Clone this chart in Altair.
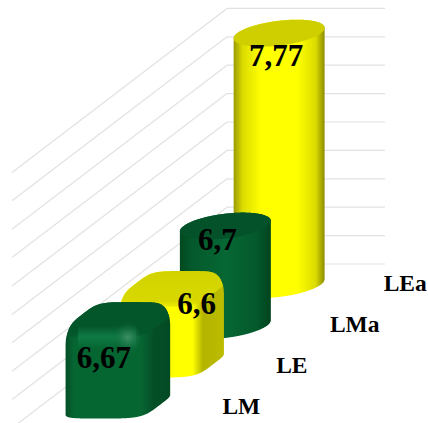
import altair as alt
import numpy as np
import pandas as pd

# Chart values
categories = ["LM", "LE", "LMa", "LEa"]
values = [6.67, 6.6, 6.7, 7.77]
value_ticks = [6.0, 6.2, 6.4, 6.6, 6.8, 7.0, 7.2, 7.4, 7.6, 7.8]
bar_styles = ["box", "box", "cylinder", "cylinder"]

# Oblique projection of the 3D box onto the page
WIDTH, HEIGHT = 428, 423
BASE_VALUE = 6.0
UNIT = 142.0                 # page units per value unit
FLOOR_FRONT = (12.0, 428.0)  # front-left corner of the floor
DEPTH = (215.0, -164.0)      # floor edge running front to back
WALL_WIDTH = 158.0           # back wall width
BAR_U = 41.9                 # half width of a bar
BAR_V = (17.7, -13.5)        # half depth of a bar
BEVEL = 22.0                 # height of the rounded shoulder of a box
BEVEL_INSET = 0.26           # footprint lost at the very top of that shoulder

x_scale = alt.Scale(domain=[0, WIDTH], range=[0, WIDTH], nice=False, zero=False)
y_scale = alt.Scale(domain=[HEIGHT, 0], range=[HEIGHT, 0], nice=False, zero=False)


def floor_center(i):
    d = (i + 0.5) / len(categories)
    return (FLOOR_FRONT[0] + WALL_WIDTH / 2 + DEPTH[0] * d, FLOOR_FRONT[1] + DEPTH[1] * d)


def outline(cx, cy, n, scale=1.0):
    """Superellipse footprint: n=2 gives a disc, larger n a rounded square."""
    t = np.linspace(0, 2 * np.pi, 361)
    u = np.sign(np.cos(t)) * np.abs(np.cos(t)) ** (2 / n) * scale
    v = np.sign(np.sin(t)) * np.abs(np.sin(t)) ** (2 / n) * scale
    return cx + BAR_U * u + BAR_V[0] * v, cy + BAR_V[1] * v


def envelope(px, py, xs):
    """Upper and lower y of a closed outline at each x (NaN outside it)."""
    top, bottom = [], []
    for x in xs:
        a, b = px[:-1], px[1:]
        hit = ((a <= x) & (b >= x)) | ((b <= x) & (a >= x))
        if not hit.any():
            top.append(np.nan)
            bottom.append(np.nan)
            continue
        with np.errstate(divide="ignore", invalid="ignore"):
            f = np.where(b != a, (x - a) / (b - a), 0.0)
        ys = (py[:-1] + f * (py[1:] - py[:-1]))[hit]
        top.append(ys.min())
        bottom.append(ys.max())
    return np.array(top), np.array(bottom)


def rounded_top(cx, top_y, n, xs):
    """Upper silhouette of a box whose top edge is rounded over."""
    rows = []
    for phi in np.linspace(0, np.pi / 2, 15):
        scale = 1 - BEVEL_INSET * (1 - np.sin(phi))
        drop = BEVEL * (1 - np.cos(phi))
        px, py = outline(cx, top_y + drop, n, scale)
        rows.append(envelope(px, py, xs)[0])
    return np.nanmin(np.vstack(rows), axis=0)


def area_layer(xs, top, bottom, fill):
    df = pd.DataFrame({"x": xs, "y": top, "y2": bottom})
    return alt.Chart(df).mark_area(fill=fill, interpolate="linear").encode(
        x=alt.X("x:Q", scale=x_scale, axis=None),
        y=alt.Y("y:Q", scale=y_scale, axis=None),
        y2="y2:Q",
    )


def linear(stops, horizontal=True):
    return alt.Gradient(
        gradient="linear",
        x1=0, y1=0,
        x2=1 if horizontal else 0,
        y2=0 if horizontal else 1,
        stops=[alt.GradientStop(offset=o, color=c) for o, c in stops],
    )


PAINT = {
    "cylinder": {
        "LMa": dict(
            body=[(0, "#02481f"), (0.12, "#04582b"), (0.5, "#066834"), (0.85, "#04582b"), (1, "#02441f")],
            cap="#035229",
        ),
        "LEa": dict(
            body=[(0, "#9a9a00"), (0.1, "#dcdc00"), (0.3, "#ffff00"), (0.7, "#ffff00"), (0.9, "#dcdc00"), (1, "#8c8c00")],
            cap="#cfcf00",
        ),
    },
    "box": {
        "LM": dict(
            body=[(0, "#044e26"), (0.08, "#066632"), (0.72, "#066632"), (0.84, "#044f27"), (1, "#034a23")],
            cap=[(0, "#03552a"), (0.7, "#03552a"), (1, "#03552a00")],
            band="#0f7a45",
        ),
        "LE": dict(
            body=[(0, "#e8e800"), (0.06, "#ffff00"), (0.7, "#ffff00"), (0.8, "#b4b400"), (1, "#bcbc00")],
            cap=[(0, "#d2d200"), (0.7, "#d8d800"), (1, "#d8d80000")],
        ),
    },
}

layers = []

# Back wall and side wall gridlines
grid_rows = []
for tick in value_ticks:
    back_y = FLOOR_FRONT[1] + DEPTH[1] - (tick - BASE_VALUE) * UNIT
    back_x = FLOOR_FRONT[0] + DEPTH[0]
    grid_rows.append(dict(x=back_x, y=back_y, x2=back_x + WALL_WIDTH, y2=back_y))
    grid_rows.append(dict(x=FLOOR_FRONT[0], y=back_y - DEPTH[1], x2=back_x, y2=back_y))
layers.append(
    alt.Chart(pd.DataFrame(grid_rows)).mark_rule(color="#e2e2e2", strokeWidth=1.2).encode(
        x=alt.X("x:Q", scale=x_scale, axis=None),
        y=alt.Y("y:Q", scale=y_scale, axis=None),
        x2="x2:Q",
        y2="y2:Q",
    )
)

# Bars, drawn back to front
for i in reversed(range(len(categories))):
    cx, cy = floor_center(i)
    top_y = cy - (values[i] - BASE_VALUE) * UNIT
    style = bar_styles[i]
    paint = PAINT[style][categories[i]]
    if style == "cylinder":
        bx, by = outline(cx, cy, 2)
        tx, ty = outline(cx, top_y, 2)
        xs = np.linspace(bx.min() + 0.01, bx.max() - 0.01, 260)
        cap_top, cap_bottom = envelope(tx, ty, xs)
        _, lower = envelope(bx, by, xs)
        layers.append(area_layer(xs, cap_top, lower, linear(paint["body"])))
        layers.append(area_layer(xs, cap_top, cap_bottom, paint["cap"]))
    else:
        n = 4.5
        bx, by = outline(cx, cy - 2.5, n)
        xs = np.linspace(bx.min() + 0.01, bx.max() - 0.01, 260)
        upper = rounded_top(cx, top_y, n, xs)
        _, lower = envelope(bx, by, xs)
        layers.append(area_layer(xs, upper, lower, linear(paint["body"])))
        # Soft shoulder where the top of the rounded box meets its faces
        tx, ty = outline(cx, top_y, n)
        _, cap_bottom = envelope(tx, ty, xs)
        layers.append(area_layer(xs, upper, np.maximum(cap_bottom + 12, upper), linear(paint["cap"], horizontal=False)))
        if "band" in paint:
            # Lighter sheen along the front shoulder, with a specular spot near its right end
            front_edge = top_y + 13.5
            bx2 = np.linspace(cx - 40, cx + 18, 40)
            sheen = linear([(0, paint["band"] + "00"), (0.5, paint["band"]), (1, paint["band"] + "00")], horizontal=False)
            layers.append(area_layer(bx2, front_edge + np.zeros(40), front_edge + 22 + np.zeros(40), sheen))
            sx = np.linspace(cx - 2, cx + 22, 40)
            half = np.sqrt(np.maximum(0, 144 - (sx - cx - 10) ** 2)) * 1.4
            spot = alt.Gradient(
                gradient="radial", x1=0.5, y1=0.5, x2=0.5, y2=0.5, r1=0, r2=0.5,
                stops=[alt.GradientStop(offset=0, color="#3f8f66"), alt.GradientStop(offset=1, color="#06663200")],
            )
            layers.append(area_layer(sx, top_y + 25 - half, top_y + 25 + half, spot))

# Value labels on the bars
label_nudge = [(-14, 47), (25, 24), (-8, 15), (-3, 24)]
text_rows = []
for i, (v, (dx, dy)) in enumerate(zip(values, label_nudge)):
    cx, cy = floor_center(i)
    text_rows.append(dict(x=cx + dx, y=cy - (v - BASE_VALUE) * UNIT + dy, label=str(v).replace(".", ",")))
layers.append(
    alt.Chart(pd.DataFrame(text_rows)).mark_text(
        font="Liberation Serif", fontWeight="bold", fontSize=31, color="#000000",
        align="center", baseline="middle",
    ).encode(
        x=alt.X("x:Q", scale=x_scale, axis=None),
        y=alt.Y("y:Q", scale=y_scale, axis=None),
        text="label:N",
    )
)

# Category labels along the front edge of the floor
cat_rows = []
for i, name in enumerate(categories):
    cx, cy = floor_center(i)
    cat_rows.append(dict(x=cx + 104.5, y=cy - 1, label=name))
layers.append(
    alt.Chart(pd.DataFrame(cat_rows)).mark_text(
        font="Liberation Serif", fontWeight="bold", fontSize=23.5, color="#000000",
        align="left", baseline="middle",
    ).encode(
        x=alt.X("x:Q", scale=x_scale, axis=None),
        y=alt.Y("y:Q", scale=y_scale, axis=None),
        text="label:N",
    )
)

chart = alt.layer(*layers).properties(
    width=WIDTH,
    height=HEIGHT,
    padding=0,
    autosize=alt.AutoSizeParams(type="none"),
    background="#ffffff",
).configure_view(stroke=None, clip=False)

chart.save("out.html", embed_options={"renderer": "svg", "actions": False})
